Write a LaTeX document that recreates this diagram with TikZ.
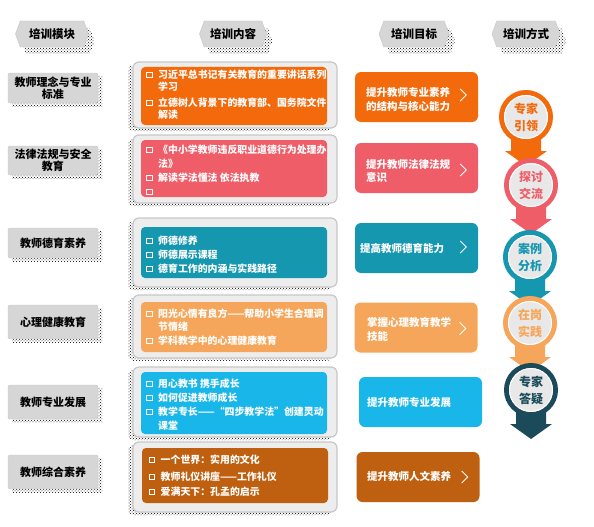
\documentclass[tikz,border=0pt]{standalone}
\usepackage{fontspec}
\setmainfont{Noto Sans CJK SC}
\usetikzlibrary{shapes.symbols,patterns,calc}
\definecolor{cOr}{HTML}{F26A0C}
\definecolor{cRd}{HTML}{EF5D68}
\definecolor{cTl}{HTML}{1597AF}
\definecolor{cLo}{HTML}{F6A65A}
\definecolor{cSb}{HTML}{19B6EA}
\definecolor{cBr}{HTML}{BF5F10}
\definecolor{cNv}{HTML}{1B4A5A}
\definecolor{gbox}{HTML}{D6D6D6}
\definecolor{gout}{HTML}{EDEDED}
\definecolor{gline}{HTML}{C8C8C8}
\definecolor{cin}{HTML}{E8E8E8}
\newcommand\bitem[3]{\node[sq] (#1q) at (149.5,#2) {}; \node[ln] (#1) at (158,#2) {#3};}
\newcommand\citem[3]{\node[ln] (#1) at (158,#2) {#3};}
\begin{document}
\begin{tikzpicture}[x=1pt,y=-1pt,
  hdr/.style={signal, signal to=east and west, signal pointer angle=140, fill=gbox, draw=gline, minimum height=26pt, inner sep=0pt, font=\fontsize{11.5}{12}\selectfont\bfseries},
  hdrsh/.style={signal, signal to=east and west, signal pointer angle=140, pattern=crosshatch dots, pattern color=black, minimum height=26pt, inner sep=0pt},
  mod/.style={rectangle, rounded corners=2pt, fill=gbox, draw=gline, minimum width=90pt, align=center, inner sep=0pt, font=\fontsize{11}{12.5}\selectfont\bfseries},
  shd/.style={pattern=crosshatch dots, pattern color=black},
  outerbox/.style={fill=gout, draw=gline, line width=1.2pt, rounded corners=6pt},
  innerbox/.style={rounded corners=4pt},
  ln/.style={anchor=west, inner sep=0pt, text=white, font=\fontsize{9.9}{10}\selectfont\bfseries, text height=0.88em, text depth=0.12em},
  sq/.style={rectangle, draw=white, line width=1.1pt, minimum size=5.5pt, inner sep=0pt},
  tgt/.style={rectangle, rounded corners=6pt, minimum width=123pt, minimum height=50pt, inner sep=0pt},
  tt/.style={anchor=west, inner sep=0pt, text=white, font=\fontsize{10.5}{11}\selectfont\bfseries, text height=0.88em, text depth=0.12em},
  chev/.style={draw=white, line width=0.8pt},
  circ/.style={circle, minimum size=49pt, line width=5pt, fill=cin, inner sep=0pt, align=center, font=\fontsize{12}{17}\selectfont\bfseries}
]
\useasboundingbox[fill=white] (0,0) rectangle (594,527);

% headers
\node[hdrsh, minimum width=73pt] (h1s) at (58,41) {};
\node[hdr, minimum width=73pt] (h1) at (52,34) {培训模块};
\node[hdrsh, minimum width=67pt] (h2s) at (239,41) {};
\node[hdr, minimum width=67pt] (h2) at (233,34) {培训内容};
\node[hdrsh, minimum width=70pt] (h3s) at (420,41) {};
\node[hdr, minimum width=70pt] (h3) at (414,34) {培训目标};
\node[hdrsh, minimum width=68pt] (h4s) at (532,41) {};
\node[hdr, minimum width=68pt] (h4) at (526,34) {培训方式};

% module boxes
\fill[shd] (12,76) rectangle (102,106);
\node[mod, minimum height=30pt] (m1) at (53,88) {教师理念与专业\\标准};
\fill[shd] (12,149) rectangle (102,178);
\node[mod, minimum height=29pt] (m2) at (53,160.5) {法律法规与安全\\教育};
\fill[shd] (12,231) rectangle (102,261);
\node[mod, minimum height=30pt] (m3) at (53,243) {教师德育素养};
\fill[shd] (12,308) rectangle (102,342);
\node[mod, minimum height=34pt] (m4) at (53,322) {心理健康教育};
\fill[shd] (12,388) rectangle (102,422);
\node[mod, minimum height=34pt] (m5) at (53,402) {教师专业发展};
\fill[shd] (12,458) rectangle (102,492);
\node[mod, minimum height=34pt] (m6) at (53,472) {教师综合素养};

% content boxes
\fill[shd, rounded corners=6pt] (128,65) rectangle (332,131);
\draw[outerbox] (133,62) rectangle (337,128);
\fill[cOr, innerbox] (141,67) rectangle (327,125);
\bitem{a1}{75}{习近平总书记有关教育的重要讲话系列}
\citem{a2}{87}{学习}
\bitem{a3}{103}{立德树人背景下的教育部、国务院文件}
\citem{a4}{115}{解读}

\fill[shd, rounded corners=6pt] (128,138) rectangle (332,206);
\draw[outerbox] (133,135) rectangle (337,203);
\fill[cRd, innerbox] (141,140) rectangle (327,197);
\bitem{b1}{150}{《中小学教师违反职业道德行为处理办}
\citem{b2}{164}{法》}
\bitem{b3}{178}{解读学法懂法 依法执教}
\node[sq] (b4q) at (149.5,192) {};

\fill[shd, rounded corners=6pt] (128,221) rectangle (332,290);
\draw[outerbox] (133,218) rectangle (337,287);
\fill[cTl, innerbox] (141,227) rectangle (327,278);
\bitem{c1}{241}{师德修养}
\bitem{c2}{255}{师德展示课程}
\bitem{c3}{269}{德育工作的内涵与实践路径}

\fill[shd, rounded corners=6pt] (128,298) rectangle (332,361);
\draw[outerbox] (133,295) rectangle (337,358);
\fill[cLo, innerbox] (141,302) rectangle (327,352);
\bitem{d1}{314}{阳光心情有良方——帮助小学生合理调}
\citem{d2}{327}{节情绪}
\bitem{d3}{341}{学科教学中的心理健康教育}

\fill[shd, rounded corners=6pt] (128,370) rectangle (332,440);
\draw[outerbox] (133,367) rectangle (337,437);
\fill[cSb, innerbox] (141,372) rectangle (327,434);
\bitem{e1}{384}{用心教书 携手成长}
\bitem{e2}{398}{如何促进教师成长}
\bitem{e3}{412}{教学专长——“四步教学法”创建灵动}
\citem{e4}{426}{课堂}

\fill[shd, rounded corners=6pt] (128,445) rectangle (332,515);
\draw[outerbox] (133,442) rectangle (337,512);
\fill[cBr, innerbox] (142,448) rectangle (328,503);
\begin{scope}[xshift=2.5pt]
\bitem{f1}{460}{一个世界：实用的文化}
\bitem{f2}{477}{教师礼仪讲座——工作礼仪}
\bitem{f3}{492}{爱满天下：孔孟的启示}
\end{scope}

% target boxes
\node[tgt, fill=cOr] (t1) at (416.5,97) {};
\node[tt] (t1a) at (366,93) {提升教师专业素养};
\node[tt] (t1b) at (366,107) {的结构与核心能力};
\draw[chev] ($(t1.east)+(-18,-8)$) -- ++(6,6) -- ++(-6,6);

\node[tgt, fill=cRd] (t2) at (416.5,168) {};
\node[tt] (t2a) at (366,165) {提升教师法律法规};
\node[tt] (t2b) at (366,178) {意识};
\draw[chev] ($(t2.east)+(-18,-4)$) -- ++(6,6) -- ++(-6,6);

\node[tgt, fill=cTl] (t3) at (416.5,248) {};
\node[tt] (t3a) at (360,249) {提高教师德育能力};
\draw[chev] ($(t3.east)+(-18,-7)$) -- ++(6,6) -- ++(-6,6);

\node[tgt, fill=cLo] (t4) at (416,327.5) {};
\node[tt] (t4a) at (367,323) {掌握心理教育教学};
\node[tt] (t4b) at (367,337) {技能};
\draw[chev] ($(t4.east)+(-18,-5)$) -- ++(6,6) -- ++(-6,6);

\node[tgt, fill=cSb] (t5) at (420.5,402) {};
\node[tt] (t5a) at (367,403) {提升教师专业发展};

\node[tgt, fill=cBr] (t6) at (418,477) {};
\node[tt] (t6a) at (367,477) {提升教师人文素养};
\draw[chev] ($(t6.east)+(-18,-6)$) -- ++(6,6) -- ++(-6,6);

% method column
\coordinate (k1) at (526,117);
\coordinate (k2) at (531,185);
\coordinate (k3) at (530,257);
\coordinate (k4) at (530,323);
\coordinate (k5) at (531,390);
\foreach \k/\c in {k1/cOr,k2/cRd,k3/cTl,k4/cLo,k5/cNv}{
  \fill[\c] ($(\k)+(-15,0)$) -- ($(\k)+(-15,34)$) -- ($(\k)+(-21,34)$) -- ($(\k)+(0,49)$) -- ($(\k)+(21,34)$) -- ($(\k)+(15,34)$) -- ($(\k)+(15,0)$) -- cycle;
}
\node[circ, draw=cOr, text=cOr] (n1) at (k1) {专家\\引领};
\draw[white, line width=1pt] (k1) circle (21.5);
\node[circ, draw=cRd, text=cRd] (n2) at (k2) {探讨\\交流};
\draw[white, line width=1pt] (k2) circle (21.5);
\node[circ, draw=cTl, text=cTl] (n3) at (k3) {案例\\分析};
\draw[white, line width=1pt] (k3) circle (21.5);
\node[circ, draw=cLo, text=cLo] (n4) at (k4) {在岗\\实践};
\draw[white, line width=1pt] (k4) circle (21.5);
\node[circ, draw=cNv, text=cNv] (n5) at (k5) {专家\\答疑};
\draw[white, line width=1pt] (k5) circle (21.5);
\end{tikzpicture}
\end{document}
